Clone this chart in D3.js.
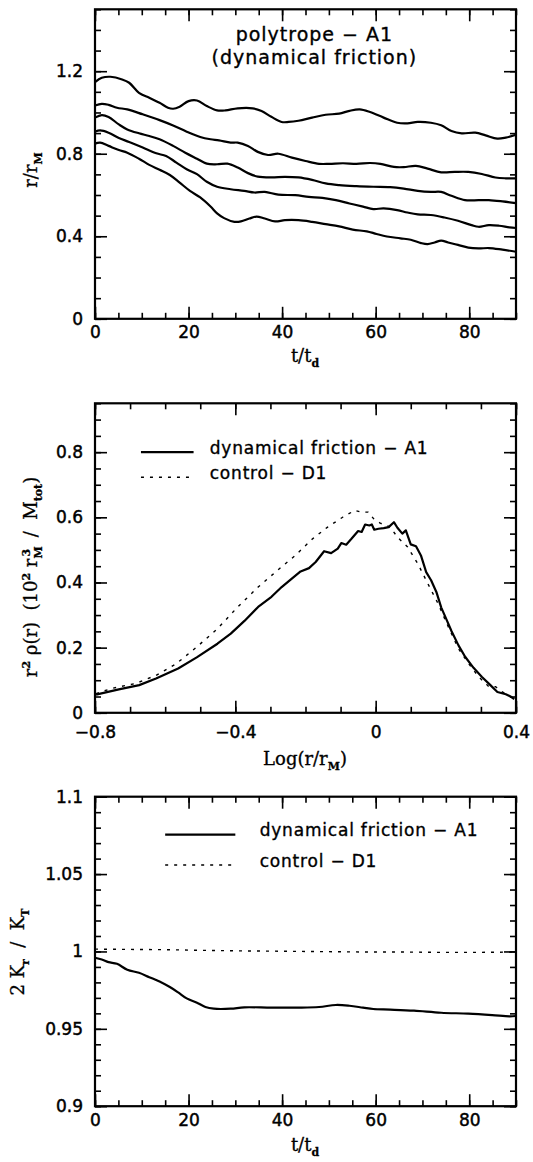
<!DOCTYPE html>
<html>
<head>
<meta charset="utf-8">
<script src="https://cdn.jsdelivr.net/npm/d3@7"></script>
<style>
  body { margin: 0; background: #fff; }
  svg { display: block; }
  .tick text { font-family: "DejaVu Sans", sans-serif; font-size: 17px; fill: #000; stroke: #000; stroke-width: 0.45px; }
  .lab { font-family: "DejaVu Serif", serif; font-size: 18px; fill: #000; stroke: #000; stroke-width: 0.3px; white-space: pre; }
  .leg { font-family: "DejaVu Sans", sans-serif; font-size: 17px; letter-spacing: 0.8px; fill: #000; stroke: #000; stroke-width: 0.35px; }
  .ttl { font-family: "DejaVu Sans", sans-serif; font-size: 19px; letter-spacing: 1px; fill: #000; stroke: #000; stroke-width: 0.35px; }
</style>
</head>
<body>
<svg id="chart"></svg>
<script>
// ---- panel 1: radii containing mass fractions vs time (A1)
const tTop = [0, 1.45, 3.3, 5.8, 7.3, 9.4, 11.6, 13.8, 15.6, 16.7, 18.1, 20, 21.8, 23.9, 26.1, 27.9, 30.5, 33.7, 35.6, 37.7, 39.9, 41.4, 43.5, 46.4, 49.3, 52.2, 54.4, 56.6, 58.8, 61.7, 64.6, 66.8, 69, 71.8, 74, 76.2, 78.4, 81.3, 83.5, 86, 87.8, 90];
const rTop = [1.147, 1.168, 1.173, 1.16, 1.144, 1.095, 1.071, 1.047, 1.023, 1.018, 1.028, 1.055, 1.058, 1.031, 1.01, 1.01, 1.02, 1.02, 1.007, 0.979, 0.954, 0.954, 0.96, 0.975, 0.989, 0.994, 1.008, 1.015, 1.002, 0.975, 0.95, 0.947, 0.954, 0.95, 0.938, 0.91, 0.899, 0.902, 0.889, 0.873, 0.878, 0.892];
const t2 = [0, 1.45, 2.9, 4.7, 6.9, 10.2, 13.8, 16.7, 19.6, 22.5, 24.7, 26.5, 29, 30.5, 32.7, 34.8, 37, 39.2, 42.1, 45, 47.9, 50.1, 53, 55.9, 58.8, 61, 63.9, 66, 68.6, 71.1, 74, 76.9, 79.8, 82.7, 85.6, 87.8, 90];
const r2 = [1.034, 1.042, 1.037, 1.023, 1.015, 0.991, 0.963, 0.937, 0.907, 0.881, 0.87, 0.865, 0.854, 0.854, 0.838, 0.809, 0.794, 0.8, 0.781, 0.765, 0.751, 0.751, 0.754, 0.751, 0.755, 0.751, 0.736, 0.735, 0.741, 0.728, 0.71, 0.712, 0.712, 0.702, 0.685, 0.681, 0.681];
const t3 = [0, 1.45, 2.9, 5.1, 6.9, 9.4, 11.6, 13.8, 16.7, 19.3, 21.8, 23.9, 26.1, 28.3, 30.5, 32.7, 34.8, 37.7, 40.6, 43.5, 46.4, 49.3, 52.2, 55.9, 59.5, 63.1, 66, 69, 71.8, 74, 76.2, 79.1, 82, 84.2, 87.1, 90];
const r3 = [0.975, 0.987, 0.978, 0.942, 0.918, 0.899, 0.886, 0.87, 0.838, 0.805, 0.776, 0.752, 0.749, 0.752, 0.733, 0.706, 0.689, 0.685, 0.688, 0.685, 0.673, 0.656, 0.648, 0.643, 0.64, 0.638, 0.631, 0.62, 0.615, 0.615, 0.596, 0.575, 0.575, 0.575, 0.569, 0.561];
const t4 = [0, 1.1, 2.9, 5.1, 7.3, 10.2, 13.1, 15.2, 17.4, 19.6, 21.8, 23.9, 26.1, 29, 31.9, 34.1, 36.3, 39.2, 42.8, 45.7, 48.6, 51.5, 54.4, 57.3, 59.5, 61.7, 64.6, 66.8, 69, 71.8, 74.7, 77.6, 80.5, 82, 84.2, 86.4, 88.6, 90];
const r4 = [0.907, 0.913, 0.902, 0.876, 0.857, 0.83, 0.802, 0.789, 0.757, 0.725, 0.701, 0.664, 0.64, 0.628, 0.62, 0.612, 0.615, 0.602, 0.599, 0.591, 0.586, 0.575, 0.559, 0.544, 0.532, 0.535, 0.527, 0.515, 0.506, 0.503, 0.491, 0.475, 0.454, 0.446, 0.454, 0.451, 0.443, 0.44];
const t5 = [0, 1.1, 2.9, 5.1, 6.9, 9.4, 11.6, 13.8, 16, 18.1, 20.3, 22.5, 24.7, 26.1, 27.6, 29.8, 31.2, 33, 34.5, 36.3, 38.5, 40.6, 43.5, 46.4, 49.3, 52.2, 55.1, 58.1, 60.2, 62.4, 65.3, 67.5, 69.7, 71.1, 72.6, 74, 75.5, 77.6, 79.8, 82, 84.2, 87.1, 90];
const r5 = [0.849, 0.854, 0.838, 0.818, 0.805, 0.776, 0.746, 0.722, 0.697, 0.66, 0.62, 0.588, 0.544, 0.511, 0.488, 0.47, 0.472, 0.486, 0.495, 0.486, 0.472, 0.478, 0.478, 0.47, 0.459, 0.448, 0.432, 0.424, 0.411, 0.399, 0.39, 0.383, 0.367, 0.362, 0.37, 0.379, 0.37, 0.358, 0.345, 0.341, 0.343, 0.335, 0.325];

// ---- panel 2: density profile r^2 rho(r)
const logA1 = [-0.797, -0.732, -0.674, -0.626, -0.563, -0.51, -0.451, -0.413, -0.374, -0.335, -0.297, -0.268, -0.239, -0.214, -0.19, -0.171, -0.147, -0.127, -0.108, -0.098, -0.084, -0.069, -0.05, -0.04, -0.03, -0.018, -0.011, -0.004, 0.008, 0.023, 0.037, 0.052, 0.062, 0.076, 0.086, 0.1, 0.115, 0.129, 0.144, 0.158, 0.173, 0.187, 0.202, 0.216, 0.236, 0.255, 0.279, 0.303, 0.327, 0.347, 0.371, 0.386, 0.395];
const rhoA1 = [0.056, 0.072, 0.085, 0.105, 0.136, 0.17, 0.212, 0.243, 0.282, 0.325, 0.356, 0.386, 0.412, 0.434, 0.444, 0.463, 0.496, 0.49, 0.504, 0.521, 0.516, 0.534, 0.558, 0.555, 0.578, 0.575, 0.578, 0.562, 0.565, 0.567, 0.57, 0.585, 0.568, 0.55, 0.56, 0.517, 0.511, 0.483, 0.432, 0.407, 0.371, 0.323, 0.286, 0.251, 0.207, 0.172, 0.138, 0.11, 0.085, 0.064, 0.057, 0.049, 0.042];
const logD1 = [-0.797, -0.752, -0.684, -0.626, -0.568, -0.51, -0.451, -0.393, -0.335, -0.277, -0.229, -0.18, -0.137, -0.093, -0.06, -0.04, -0.021, -0.006, 0.013, 0.042, 0.062, 0.091, 0.12, 0.149, 0.178, 0.207, 0.236, 0.265, 0.294, 0.323, 0.342, 0.361, 0.381, 0.395];
const rhoD1 = [0.059, 0.075, 0.09, 0.115, 0.151, 0.202, 0.258, 0.325, 0.386, 0.44, 0.483, 0.534, 0.57, 0.601, 0.621, 0.616, 0.616, 0.596, 0.582, 0.57, 0.539, 0.509, 0.458, 0.396, 0.335, 0.264, 0.197, 0.151, 0.11, 0.08, 0.08, 0.064, 0.051, 0.044];

// ---- panel 3: anisotropy 2K_r/K_T vs time
const tKA1 = [0, 1.45, 2.9, 4.7, 6.9, 9.4, 11.6, 13.8, 16, 17.8, 19.6, 21.8, 23.6, 25.4, 29, 31.9, 37.7, 43.5, 47.9, 51.5, 54.4, 57.3, 59.5, 63.1, 68.2, 74, 79.8, 84.9, 88.6, 90];
const kA1 = [0.9959, 0.9948, 0.9931, 0.992, 0.9882, 0.9862, 0.9834, 0.9806, 0.977, 0.9735, 0.9697, 0.9669, 0.9641, 0.963, 0.963, 0.9639, 0.9637, 0.9637, 0.9641, 0.9654, 0.9649, 0.9637, 0.9628, 0.9624, 0.9617, 0.9604, 0.9598, 0.9589, 0.9581, 0.9583];
const tKD1 = [0, 8.7, 16, 23.2, 30.5, 37.7, 45, 52.2, 59.5, 66.8, 74, 81.3, 90];
const kD1 = [1.0015, 1.0013, 1.0011, 1.0007, 1.0004, 1.0002, 1.0, 0.9998, 0.9996, 0.9996, 0.9994, 0.9994, 0.9996];

// ticks
const tMajor = [0, 20, 40, 60, 80];
const tLabels = ["0", "20", "40", "60", "80"];
const logMajor = [-0.8, -0.4, 0, 0.4];
const logLabels = ["\u22120.8", "\u22120.4", "0", "0.4"];
const r1Major = [0, 0.4, 0.8, 1.2];
const r1Labels = ["0", "0.4", "0.8", "1.2"];
const rhoMajor = [0, 0.2, 0.4, 0.6, 0.8];
const rhoLabels = ["0", "0.2", "0.4", "0.6", "0.8"];
const kMajor = [0.9, 0.95, 1, 1.05, 1.1];
const kLabels = ["0.9", "0.95", "1", "1.05", "1.1"];

const legendNames = ["dynamical friction \u2212 A1", "control \u2212 D1"];
const titleLines = ["polytrope \u2212 A1", "(dynamical friction)"];

const W = 533, H = 1162;
const L = 95, R = 516, PH = 309.5;

const svg = d3.select("#chart").attr("width", W).attr("height", H);

function range(a, b, s) {
  const out = [];
  for (let v = a; v <= b + s / 1000; v += s) out.push(+v.toFixed(4));
  return out;
}

function panel(top, xDom, yDom, xMaj, xLab, xMin, yMaj, yLab, yMin, xPad) {
  const x = d3.scaleLinear().domain(xDom).range([L, R]);
  const y = d3.scaleLinear().domain(yDom).range([top + PH, top]);
  const g = svg.append("g");
  const fmt = (labels, major) => (d) => labels[major.indexOf(d)];

  // minor ticks on all four sides, pointing inward
  g.append("g").attr("transform", `translate(0,${top + PH})`)
    .call(d3.axisBottom(x).tickValues(xMin).tickSize(-6).tickFormat(""));
  g.append("g").attr("transform", `translate(0,${top})`)
    .call(d3.axisTop(x).tickValues(xMin).tickSize(-6).tickFormat(""));
  g.append("g").attr("transform", `translate(${L},0)`)
    .call(d3.axisLeft(y).tickValues(yMin).tickSize(-6).tickFormat(""));
  g.append("g").attr("transform", `translate(${R},0)`)
    .call(d3.axisRight(y).tickValues(yMin).tickSize(-6).tickFormat(""));
  // major ticks + labels
  g.append("g").attr("transform", `translate(0,${top + PH})`)
    .call(d3.axisBottom(x).tickValues(xMaj).tickSize(-12).tickPadding(xPad).tickFormat(fmt(xLab, xMaj)));
  g.append("g").attr("transform", `translate(0,${top})`)
    .call(d3.axisTop(x).tickValues(xMaj).tickSize(-12).tickFormat(""));
  g.append("g").attr("transform", `translate(${L},0)`)
    .call(d3.axisLeft(y).tickValues(yMaj).tickSize(-12).tickPadding(12).tickFormat(fmt(yLab, yMaj)));
  g.append("g").attr("transform", `translate(${R},0)`)
    .call(d3.axisRight(y).tickValues(yMaj).tickSize(-12).tickFormat(""));

  g.selectAll(".domain").remove();
  g.selectAll(".tick line").attr("stroke", "#000").attr("stroke-width", 1.6);

  g.append("rect").attr("x", L).attr("y", top).attr("width", R - L).attr("height", PH)
    .attr("fill", "none").attr("stroke", "#000").attr("stroke-width", 2.2);
  return { x, y, g };
}

function curve(p, xs, ys, dashed, smooth) {
  const line = d3.line().x((d, i) => p.x(xs[i])).y(d => p.y(d))
    .curve(smooth ? d3.curveCatmullRom.alpha(0.5) : d3.curveLinear);
  p.g.append("path").attr("d", line(ys)).attr("fill", "none").attr("stroke", "#000")
    .attr("stroke-width", dashed ? 1.4 : 2.2)
    .attr("stroke-dasharray", dashed ? "3,6" : null)
    .attr("stroke-linejoin", "round");
}

function legend(p, x0, x1, xt, yA, yB) {
  [yA, yB].forEach((yy, i) => {
    p.g.append("line").attr("x1", p.x(x0)).attr("x2", p.x(x1)).attr("y1", p.y(yy)).attr("y2", p.y(yy))
      .attr("stroke", "#000").attr("stroke-width", i ? 1.4 : 2.4).attr("stroke-dasharray", i ? "3,6" : null);
    p.g.append("text").attr("class", "leg").attr("x", p.x(xt)).attr("y", p.y(yy)).attr("dy", "0.1em")
      .text(legendNames[i]);
  });
}

// label with sub/superscripts: parts = [text, shift, dx] (shift: 0 normal, 1 sub, -1 sup)
function label(x, y, rot, parts) {
  const t = svg.append("text").attr("class", "lab").attr("text-anchor", "middle")
    .attr("transform", `translate(${x},${y}) rotate(${rot})`);
  let cur = 0;
  parts.forEach(([s, sh, dx]) => {
    const target = sh === 1 ? 5 : sh === -1 ? -7 : 0;
    t.append("tspan").attr("dy", target - cur).attr("dx", dx || null)
      .attr("font-size", sh ? 11 : 18).attr("font-weight", sh ? "bold" : null).text(s);
    cur = target;
  });
  return t;
}

// ---------------- panel 1
const p1 = panel(9.3, [0, 90], [0, 1.5], tMajor, tLabels, range(0, 90, 5), r1Major, r1Labels, range(0, 1.5, 0.1), 7);
[[tTop, rTop], [t2, r2], [t3, r3], [t4, r4], [t5, r5]].forEach(([xs, ys]) => curve(p1, xs, ys, false, true));
p1.g.append("text").attr("class", "ttl").attr("text-anchor", "middle")
  .attr("x", p1.x(46.9)).attr("y", p1.y(1.38)).attr("dy", "0.35em").text(titleLines[0]);
p1.g.append("text").attr("class", "ttl").attr("text-anchor", "middle")
  .attr("x", p1.x(46.9)).attr("y", p1.y(1.268)).attr("dy", "0.35em").text(titleLines[1]);
label(37, 170, -90, [["r/r", 0], ["M", 1]]);
label(305, 362, 0, [["t/t", 0], ["d", 1]]);

// ---------------- panel 2
const p2 = panel(403.3, [-0.8, 0.4], [0, 0.95], logMajor, logLabels, range(-0.8, 0.4, 0.1), rhoMajor, rhoLabels, range(0, 0.95, 0.05), 13);
curve(p2, logA1, rhoA1, false, false);
curve(p2, logD1, rhoD1, true, false);
legend(p2, -0.669, -0.519, -0.473, 0.8, 0.723);
label(37, 577, -90, [["r", 0], ["2", -1], [" \u03C1(r)  (10", 0], ["2", -1], [" r", 0], ["M", 1], ["3", -1, -10], ["  /  M", 0], ["tot", 1], [")", 0]]);
label(305, 765, 0, [["Log(r/r", 0], ["M", 1], [")", 0]]);

// ---------------- panel 3
const p3 = panel(796.7, [0, 90], [0.9, 1.1], tMajor, tLabels, range(0, 90, 5), kMajor, kLabels, range(0.9, 1.1, 0.01), 8);
curve(p3, tKA1, kA1, false, true);
curve(p3, tKD1, kD1, true, false);
legend(p3, 15, 30, 35.2, 1.0755, 1.0559);
label(24, 952, -90, [["2 K", 0], ["r", 1], ["  /  K", 0], ["T", 1]]);
label(305, 1151, 0, [["t/t", 0], ["d", 1]]);
</script>
</body>
</html>
